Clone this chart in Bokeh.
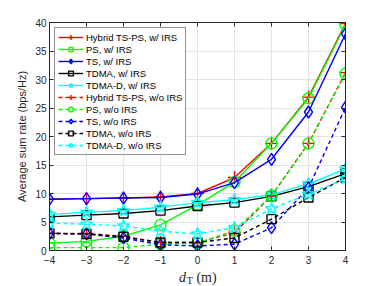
from bokeh.plotting import figure
from bokeh.models import LinearAxis, Legend, Label, FixedTicker, Range1d
from bokeh.embed import file_html
from bokeh.resources import INLINE

x = [-4, -3, -2, -1, 0, 1, 2, 3, 4]

hybrid_w = [9.0, 9.1, 9.2, 9.4, 10.0, 12.8, 18.8, 26.9, 39.8]
ps_w = [1.3, 1.6, 2.5, 4.5, 8.0, 12.0, 18.8, 26.7, 39.6]
ts_w = [9.0, 9.1, 9.2, 9.3, 9.9, 11.9, 16.0, 24.3, 38.0]
tdma_w = [5.9, 6.2, 6.5, 7.0, 7.8, 8.4, 9.5, 11.2, 13.5]
tdmad_w = [6.3, 6.7, 7.0, 7.6, 8.4, 8.9, 9.8, 11.7, 14.3]

hybrid_wo = [3.0, 3.0, 2.5, 1.4, 1.4, 3.1, 9.6, 18.8, 31.2]
ps_wo = [0.5, 0.5, 0.5, 1.1, 1.3, 3.5, 9.6, 18.8, 31.0]
ts_wo = [3.0, 2.9, 2.2, 1.0, 0.8, 1.1, 4.0, 11.0, 25.1]
tdma_wo = [3.0, 2.9, 2.4, 1.4, 1.4, 2.2, 5.5, 9.3, 12.8]
tdmad_wo = [4.8, 4.6, 4.3, 3.4, 2.9, 4.0, 7.3, 9.9, 12.6]

labels = ["Hybrid TS-PS, w/ IRS", "PS, w/ IRS", "TS, w/ IRS", "TDMA, w/ IRS", "TDMA-D, w/ IRS",
          "Hybrid TS-PS, w/o IRS", "PS, w/o IRS", "TS, w/o IRS", "TDMA, w/o IRS", "TDMA-D, w/o IRS"]
series = [hybrid_w, ps_w, ts_w, tdma_w, tdmad_w, hybrid_wo, ps_wo, ts_wo, tdma_wo, tdmad_wo]
colors = ["#ff0000", "#00ff00", "#0000ff", "#000000", "#00ffff"] * 2
markers = ["cross", "circle", "diamond", "square", "star"] * 2
sizes = [13, 11, 12, 9, 13] * 2
dashes = ["solid"] * 5 + ["4 3"] * 5

x_ticks = [-4, -3, -2, -1, 0, 1, 2, 3, 4]
y_ticks = [0, 5, 10, 15, 20, 25, 30, 35, 40]

p = figure(width=374, height=286, output_backend="svg", toolbar_location=None,
           x_range=Range1d(-4, 4), y_range=Range1d(0, 40),
           min_border_left=49, min_border_right=29, min_border_top=22, min_border_bottom=36,
           background_fill_color="white", border_fill_color="white")
p.outline_line_color = "#262626"
p.outline_line_width = 1

font = "Liberation Sans"
for ax in [p.xaxis[0], p.yaxis[0]]:
    ax.major_tick_in = 4
    ax.major_tick_out = 0
    ax.minor_tick_line_color = None
    ax.axis_line_color = "#262626"
    ax.major_tick_line_color = "#262626"
    ax.major_label_text_font = font
    ax.major_label_text_font_size = "10px"
    ax.major_label_text_color = "#262626"
p.xaxis[0].ticker = FixedTicker(ticks=x_ticks)
p.yaxis[0].ticker = FixedTicker(ticks=y_ticks)
p.xaxis[0].major_label_standoff = 5
p.yaxis[0].major_label_standoff = 3
p.yaxis[0].axis_label = "Average sum rate (bps/Hz)"
p.yaxis[0].axis_label_text_font = font
p.yaxis[0].axis_label_text_font_size = "11px"
p.yaxis[0].axis_label_text_font_style = "normal"
p.yaxis[0].axis_label_text_color = "#262626"
p.yaxis[0].axis_label_standoff = 4

for loc, tk in [("right", y_ticks), ("above", x_ticks)]:
    ax = LinearAxis(ticker=FixedTicker(ticks=tk), major_tick_in=4, major_tick_out=0,
                    minor_tick_line_color=None, axis_line_color="#262626",
                    major_tick_line_color="#262626",
                    major_label_overrides={t: "" for t in tk},
                    major_label_standoff=0)
    p.add_layout(ax, loc)

p.xgrid.ticker = FixedTicker(ticks=x_ticks)
p.ygrid.ticker = FixedTicker(ticks=y_ticks)
p.grid.grid_line_color = "#e3e3e3"
p.grid.grid_line_width = 1

items = []
for lab, ys, c, m, s, d in zip(labels, series, colors, markers, sizes, dashes):
    r1 = p.line(x, ys, line_color=c, line_width=1.4, line_dash=d)
    r2 = p.scatter(x, ys, marker=m, size=s, line_color=c, fill_color=None, line_width=1.4)
    items.append((lab, [r1, r2]))

legend = Legend(items=items, location="top_left")
legend.label_text_font = font
legend.label_text_font_size = "9.5px"
legend.label_text_color = "#000000"
legend.label_height = 12
legend.glyph_height = 12
legend.glyph_width = 25
legend.label_standoff = 3
legend.spacing = 0
legend.padding = 3
legend.margin = 5
legend.border_line_color = "#262626"
legend.border_line_width = 1
legend.background_fill_alpha = 1
p.add_layout(legend)

# x-axis title "d_T (m)" built from three labels placed in side panels (outside the clipped frame)
p.add_layout(Label(x=-0.5, y=-4.8, text="d", text_font="Liberation Serif", text_font_style="italic",
                   text_font_size="14px", text_color="#262626", text_align="left", text_baseline="alphabetic"), "right")
p.add_layout(Label(x=-0.29, y=-5.3, text="T", text_font="Liberation Serif",
                   text_font_size="10px", text_color="#262626", text_align="left", text_baseline="alphabetic"), "right")
p.add_layout(Label(x=-0.03, y=-4.8, text="(m)", text_font="Liberation Serif",
                   text_font_size="14px", text_color="#262626", text_align="left", text_baseline="alphabetic"), "above")

open("out.html", "w").write(file_html(p, INLINE))
